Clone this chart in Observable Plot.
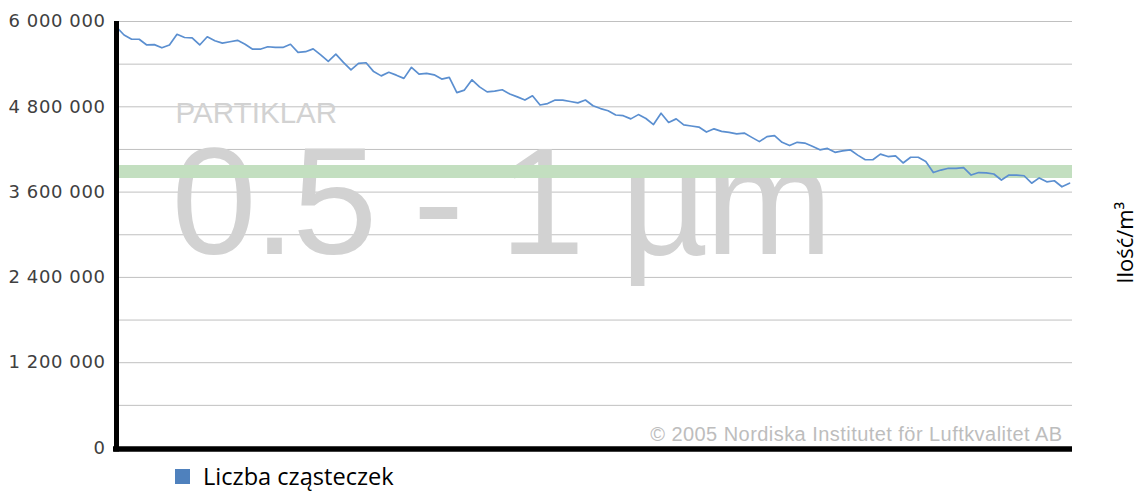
<!DOCTYPE html>
<html><head><meta charset="utf-8">
<script src="https://cdn.jsdelivr.net/npm/d3@7"></script>
<script src="https://cdn.jsdelivr.net/npm/@observablehq/plot@0.6"></script>
<style>
body{margin:0;background:#fff;}
#wrap{position:relative;width:1139px;height:491px;overflow:hidden;}
#legend{position:absolute;left:175px;top:460px;display:flex;align-items:center;font-family:"Open Sans",sans-serif;font-size:23.6px;color:#000;}
#legend .sw{width:15px;height:15px;background:#4f81bd;margin-right:13px;}
</style></head><body><div id="wrap"></div>
<script>
const values = [
5920000,5810000,5750000,5750000,5670000,5675000,5630000,5670000,5820000,5775000,
5770000,5670000,5785000,5730000,5695000,5715000,5735000,5680000,5610000,5610000,
5645000,5635000,5635000,5680000,5565000,5575000,5615000,5530000,5440000,5540000,
5425000,5320000,5410000,5420000,5295000,5235000,5285000,5245000,5200000,5355000,
5260000,5270000,5250000,5190000,5215000,5000000,5035000,5180000,5080000,5010000,
5020000,5040000,4980000,4940000,4895000,4955000,4825000,4845000,4895000,4895000,
4875000,4855000,4895000,4815000,4775000,4745000,4685000,4675000,4630000,4690000,
4635000,4550000,4710000,4580000,4630000,4545000,4530000,4515000,4445000,4490000,
4455000,4440000,4420000,4430000,4370000,4310000,4380000,4395000,4300000,4255000,
4300000,4290000,4245000,4195000,4215000,4160000,4180000,4195000,4120000,4055000,
4055000,4135000,4100000,4110000,4010000,4090000,4090000,4030000,3875000,3910000,
3935000,3935000,3945000,3840000,3875000,3870000,3855000,3770000,3840000,3840000,
3830000,3725000,3800000,3745000,3760000,3675000,3725000
];
const gridTicks = [0,600000,1200000,1800000,2400000,3000000,3600000,4200000,4800000,5400000,6000000];
const labelTicks = [0,1200000,2400000,3600000,4800000,6000000];
const limitValue = 3890000;
const watermarkSmall = "PARTIKLAR";
const watermarkBig = "0.5 - 1 µm";
const copyright = "© 2005 Nordiska Institutet för Luftkvalitet AB";
const yLabel = "Ilość/m³";
const seriesName = "Liczba cząsteczek";

const data = values.map((v, i) => ({i, v}));
const fmt = v => d3.format(",")(v).replace(/,/g, " ");

const chart = Plot.plot({
  width: 1139, height: 458,
  marginLeft: 116, marginRight: 67, marginTop: 21, marginBottom: 10.5,
  x: {domain: [0, 126.4], axis: null},
  y: {domain: [0, 6000000]},
  style: {background: "#fff", overflow: "visible"},
  marks: [
    Plot.ruleY(gridTicks, {stroke: "#c0c0c0", strokeWidth: 1}),
    Plot.text([watermarkSmall], {frameAnchor: "top-left", dx: 59, dy: 101, lineAnchor: "bottom", textAnchor: "start", fontSize: 29.6, fontFamily: "Liberation Sans", fill: "#d2d2d2"}),
    Plot.text([watermarkBig], {frameAnchor: "top-left", dx: 55, dy: 232, lineAnchor: "bottom", textAnchor: "start", fontSize: 153, fontFamily: "Liberation Sans", fill: "#d2d2d2"}),
    Plot.ruleY([limitValue], {stroke: "#c3dfc0", strokeWidth: 13}),
    Plot.text([copyright], {frameAnchor: "bottom-right", dx: -10, dy: -7.5, lineAnchor: "bottom", textAnchor: "end", fontSize: 20, fontFamily: "Liberation Sans", fill: "#bdbdbd"}),
    Plot.line(data, {x: "i", y: "v", stroke: "#5b8fd0", strokeWidth: 1.7}),
    Plot.ruleX([0], {stroke: "#000", strokeWidth: 5, insetBottom: -4}),
    Plot.ruleY([0], {stroke: "#000", strokeWidth: 5.5, dy: 1, insetLeft: -3}),
    Plot.axisY(labelTicks, {tickSize: 0, tickPadding: 11, tickFormat: fmt, fontSize: 18, fontFamily: "DejaVu Sans", fill: "#404040", label: null}),
    Plot.text([yLabel], {frameAnchor: "right", dx: 53, dy: 8, rotate: -90, textAnchor: "middle", fontSize: 22, fontFamily: "Open Sans", fill: "#000"})
  ]
});
d3.select(chart).selectAll("text").each(function() {
  const t = this.textContent;
  if (t === watermarkBig) this.style.letterSpacing = "-3.4px";
  else if (t === copyright) this.style.letterSpacing = "0.45px";
  else if (labelTicks.map(fmt).includes(t)) this.style.letterSpacing = "0.6px";
});
const wrap = document.getElementById("wrap");
wrap.appendChild(chart);
const leg = document.createElement("div");
leg.id = "legend";
leg.innerHTML = `<div class="sw"></div><span></span>`;
leg.querySelector("span").textContent = seriesName;
wrap.appendChild(leg);
</script></body></html>
